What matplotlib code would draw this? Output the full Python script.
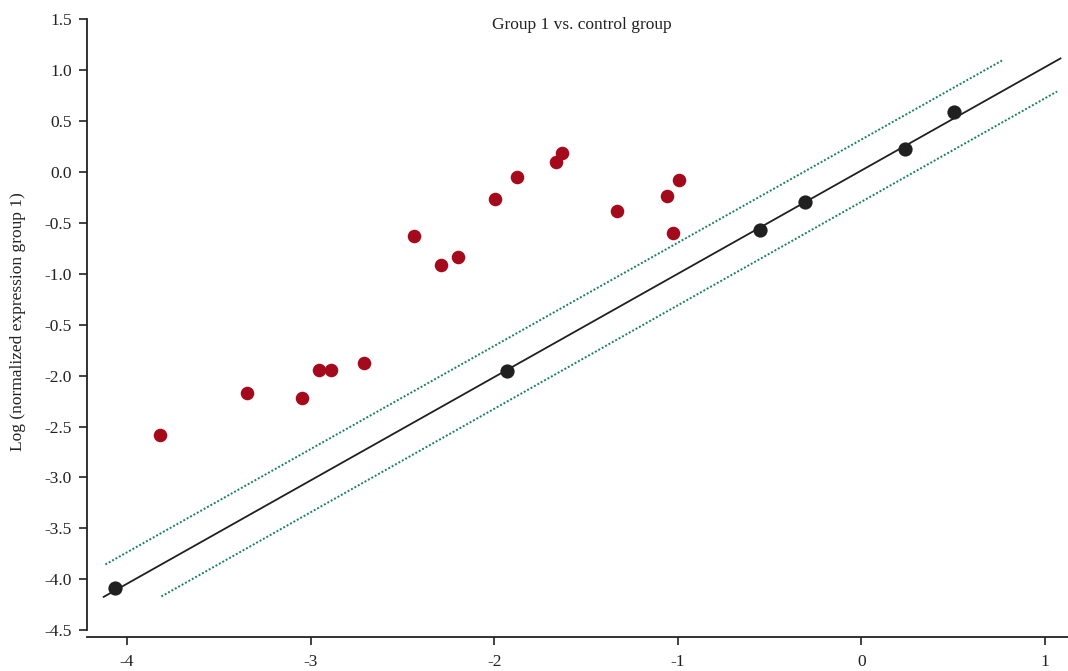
import matplotlib
matplotlib.use("Agg")
import matplotlib.pyplot as plt

plt.rcParams["font.family"] = ["Liberation Serif", "DejaVu Serif"]

# points outside the confidence band (red)
red_x = [-3.819, -3.345, -3.046, -2.953, -2.888, -2.708, -2.436, -2.289, -2.197,
         -1.995, -1.876, -1.664, -1.632, -1.333, -1.059, -1.026, -0.994]
red_y = [-2.583, -2.171, -2.220, -1.945, -1.945, -1.876, -0.629, -0.914, -0.835,
         -0.265, -0.049, 0.098, 0.187, -0.383, -0.236, -0.599, -0.079]

# points on the regression line (black)
black_x = [-4.064, -1.930, -0.551, -0.309, 0.237, 0.502]
black_y = [-4.086, -1.955, -0.567, -0.298, 0.226, 0.586]

# regression line and band (endpoints)
line_x = [-4.127, 1.084]
line_y = [-4.172, 1.113]
upper_x = [-4.118, 0.766]
upper_y = [-3.854, 1.093]
lower_x = [-3.813, 1.066]
lower_y = [-4.168, 0.789]

x_ticks = [-4, -3, -2, -1, 0, 1]
x_labels = ["-4", "-3", "-2", "-1", "0", "1"]
y_ticks = [1.5, 1.0, 0.5, 0.0, -0.5, -1.0, -1.5, -2.0, -2.5, -3.0, -3.5, -4.0, -4.5]
y_labels = ["1.5", "1.0", "0.5", "0.0", "-0.5", "-1.0", "-0.5", "-2.0", "-2.5",
            "-3.0", "-3.5", "-4.0", "-4.5"]

RED = "#a50a1c"
BLACK = "#202020"
GREEN = "#1b8062"

fig = plt.figure(figsize=(10.68, 6.71), dpi=100)
ax = fig.add_axes([87 / 1068, 1 - 637 / 671, 981 / 1068, (637 - 19) / 671])

ax.plot(upper_x, upper_y, color=GREEN, linestyle=(0, (1, 1)), linewidth=1.4)
ax.plot(lower_x, lower_y, color=GREEN, linestyle=(0, (1, 1)), linewidth=1.4)
ax.plot(line_x, line_y, color=BLACK, linewidth=1.3)
ax.scatter(red_x, red_y, s=95, color=RED, zorder=3, linewidths=0)
ax.scatter(black_x, black_y, s=105, color=BLACK, zorder=3, linewidths=0)

ax.set_xlim(-4.218, 1.125)
ax.set_ylim(-4.566, 1.5)
ax.set_xticks(x_ticks)
ax.set_xticklabels(x_labels)
ax.set_yticks(y_ticks)
ax.set_yticklabels(y_labels)
ax.tick_params(axis="both", direction="out", length=6, width=1.2, labelsize=12.5,
               colors="#222222")
ax.tick_params(axis="x", pad=6)
ax.tick_params(axis="y", pad=5)

for side in ("top", "right"):
    ax.spines[side].set_visible(False)
for side in ("left", "bottom"):
    ax.spines[side].set_linewidth(1.3)
    ax.spines[side].set_color("#222222")
ax.spines["left"].set_bounds(-4.5, 1.5)

fig.text(582 / 1068, 1 - 25 / 671, "Group 1 vs. control group", ha="center",
         va="center", fontsize=12.5, color="#222222")
fig.text(18 / 1068, 1 - 322 / 671, "Log (normalized expression group 1)",
         rotation=90, ha="center", va="center", fontsize=12.5, color="#222222")

fig.savefig("out.png", dpi=100)
